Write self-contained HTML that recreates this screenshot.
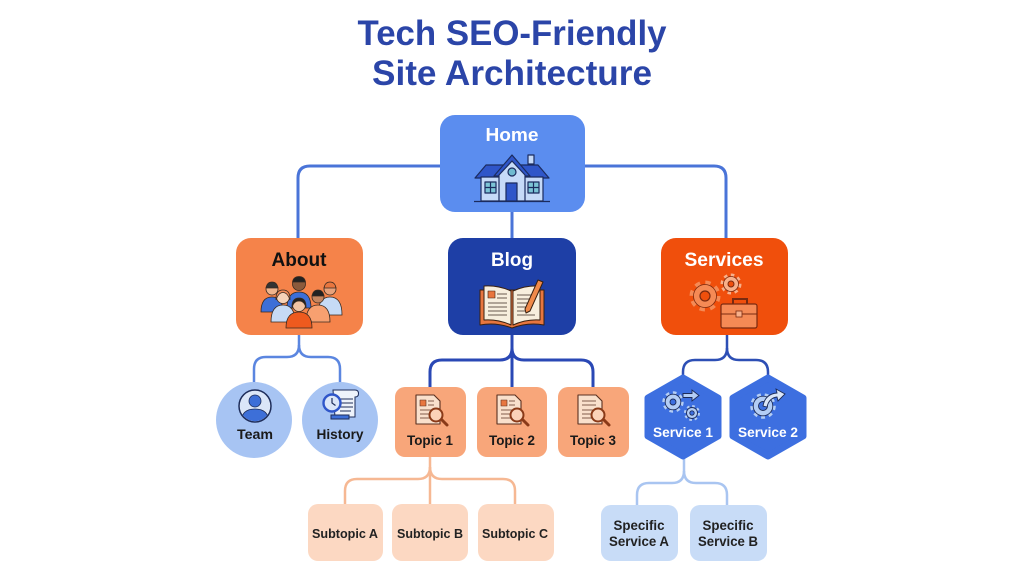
<!DOCTYPE html>
<html><head><meta charset="utf-8"><style>
html,body{margin:0;padding:0;background:#fff;}
svg{display:block;}
text{font-family:"Liberation Sans",Arial,sans-serif;font-weight:bold;}
</style></head><body>
<svg width="1024" height="576" viewBox="0 0 1024 576" xmlns="http://www.w3.org/2000/svg">
<rect width="1024" height="576" fill="#fff"/>

<!-- Title -->
<text x="512" y="45" text-anchor="middle" font-size="35" fill="#2b45a8" textLength="309" lengthAdjust="spacingAndGlyphs">Tech SEO-Friendly</text>
<text x="512" y="85" text-anchor="middle" font-size="35" fill="#2b45a8" textLength="280" lengthAdjust="spacingAndGlyphs">Site Architecture</text>

<!-- Connectors top -->
<g fill="none" stroke="#4a74d8" stroke-width="3">
<path d="M440 166 H310 Q298 166 298 178 V240"/>
<path d="M585 166 H714 Q726 166 726 178 V240"/>
<path d="M512 210 V240"/>
</g>
<!-- About branch -->
<g fill="none" stroke="#5b86e0" stroke-width="2.5">
<path d="M299 334 V345 Q299 357 287 357 H266 Q254 357 254 369 V386"/>
<path d="M299 345 Q299 357 311 357 H328 Q340 357 340 369 V386"/>
</g>
<!-- Blog branch -->
<g fill="none" stroke="#2a48b5" stroke-width="3">
<path d="M512 334 V348 Q512 360 500 360 H442 Q430 360 430 372 V388"/>
<path d="M512 348 Q512 360 524 360 H581 Q593 360 593 372 V388"/>
<path d="M512 348 V388"/>
</g>
<!-- Services branch -->
<g fill="none" stroke="#2d4fb5" stroke-width="2.5">
<path d="M727 334 V348 Q727 360 715 360 H695 Q683 360 683 372 V380"/>
<path d="M727 348 Q727 360 739 360 H756 Q768 360 768 372 V380"/>
</g>
<!-- Subtopic branch -->
<g fill="none" stroke="#f6b893" stroke-width="2.5">
<path d="M430 456 V467 Q430 479 418 479 H357 Q345 479 345 491 V505"/>
<path d="M430 467 Q430 479 442 479 H503 Q515 479 515 491 V505"/>
<path d="M430 467 V505"/>
</g>
<!-- Specific branch -->
<g fill="none" stroke="#a9c5f1" stroke-width="2.5">
<path d="M684 456 V471 Q684 483 672 483 H649 Q637 483 637 495 V506"/>
<path d="M684 471 Q684 483 696 483 H715 Q727 483 727 495 V506"/>
</g>

<!-- Home -->
<rect x="440" y="115" width="145" height="97" rx="15" fill="#5b8def"/>
<text x="512" y="141" text-anchor="middle" font-size="18" fill="#fff" textLength="53" lengthAdjust="spacingAndGlyphs">Home</text>
<!-- house -->
<g stroke="#1b2b5e" stroke-width="1.2" stroke-linejoin="round">
<rect x="528" y="155" width="6" height="9" fill="#c6daf8"/>
<polygon points="475,178 486,165 538,165 549,178" fill="#2f56c9"/>
<rect x="481" y="177" width="20" height="24" fill="#c6daf8"/>
<rect x="523" y="177" width="20" height="24" fill="#c6daf8"/>
<polygon points="494,176 512,155 530,176" fill="#2f56c9"/>
<polygon points="499,175 512,161 525,175 525,201 499,201" fill="#c6daf8"/>
<circle cx="512" cy="172" r="4" fill="#6fbad0"/>
<rect x="506" y="183" width="11" height="18" fill="#2f56c9"/>
<rect x="485" y="182" width="11" height="11" fill="#7cc4d6"/>
<rect x="528" y="182" width="11" height="11" fill="#7cc4d6"/>
<path d="M490.5 182 V193 M485 187.5 H496 M533.5 182 V193 M528 187.5 H539" fill="none"/>
<path d="M474 201.5 H550" fill="none"/>
</g>

<!-- About -->
<rect x="236" y="238" width="127" height="97" rx="15" fill="#f5834a"/>
<text x="299" y="266" text-anchor="middle" font-size="19" fill="#111" textLength="55" lengthAdjust="spacingAndGlyphs">About</text>
<g stroke="#3a2a20" stroke-width="0.8">
<path d="M261 312 Q261 297 272 297 Q283 297 283 312 Z" fill="#3d6fd8"/>
<circle cx="272" cy="289" r="6" fill="#f0b48c"/>
<path d="M266 288 Q267 282 272 282 Q277 282 278 288 Z" fill="#333"/>
<path d="M287 308 Q287 292 299 292 Q311 292 311 308 Z" fill="#3d6fd8"/>
<circle cx="299" cy="284" r="6.5" fill="#8b5a3c"/>
<path d="M292.5 282 Q293.5 276.5 299 276.5 Q304.5 276.5 305.5 282 Z" fill="#222"/>
<path d="M318 315 Q318 297 330 297 Q342 297 342 315 Z" fill="#c6daf5"/>
<circle cx="330" cy="289" r="6" fill="#e7a27c"/>
<path d="M324 288 Q325 282 330 282 Q335 282 336 288 Z" fill="#e8763f"/>
<path d="M271 322 Q271 305 283 305 Q295 305 295 322 Z" fill="#c6daf5"/>
<circle cx="283" cy="297" r="6.5" fill="#f6d2b8"/>
<path d="M276 300 Q275.5 290 283 290 Q290.5 290 290 300 Q287.5 292.5 283 292.5 Q278.5 292.5 276 300 Z" fill="#f18c5a"/>
<path d="M306 322 Q306 305 318 305 Q330 305 330 322 Z" fill="#f7a070"/>
<circle cx="318" cy="297" r="6" fill="#c58660"/>
<path d="M312 296 Q313 290 318 290 Q323 290 324 296 Z" fill="#222"/>
<path d="M286 328 Q286 312 299 312 Q312 312 312 328 Z" fill="#ee5a1e"/>
<circle cx="299" cy="305" r="6.5" fill="#f2c4a4"/>
<path d="M292 308 Q291.5 298 299 298 Q306.5 298 306 308 Q304.5 301 299 301 Q293.5 301 292 308 Z" fill="#222"/>
</g>

<!-- Blog -->
<rect x="448" y="238" width="128" height="97" rx="15" fill="#1e3fa6"/>
<text x="512" y="266" text-anchor="middle" font-size="19" fill="#fff" textLength="42" lengthAdjust="spacingAndGlyphs">Blog</text>
<g stroke="#3a2010" stroke-width="1" stroke-linejoin="round">
<path d="M480 290 L480 325 Q496 322 512 328 Q528 322 544 325 L544 290 Z" fill="#e8763f"/>
<path d="M484 286 Q498 285 511 291 L511 325 Q498 319 484 320 Z" fill="#f7eedd"/>
<path d="M513 291 Q526 285 540 286 L540 320 Q526 319 513 325 Z" fill="#f7eedd"/>
<rect x="488" y="291" width="7" height="7" fill="#e8763f" stroke-width="0.6"/>
<path d="M497 294 H507 M497 298 H507 M488 303 H507 M488 307 H507 M488 311 H507 M488 315 H507 M517 295 H535 M517 299 H535 M517 303 H530 M517 307 H528 M517 311 H530 M517 315 H535" fill="none" stroke="#6a5a50" stroke-width="0.9"/>
<path d="M538 280 L543 282 L530 311 L526 313 L525 309 Z" fill="#f08a4a"/>
</g>

<!-- Services -->
<rect x="661" y="238" width="127" height="97" rx="15" fill="#f04f0c"/>
<text x="724" y="266" text-anchor="middle" font-size="19" fill="#fff" textLength="79" lengthAdjust="spacingAndGlyphs">Services</text>
<g>
<circle cx="705" cy="296" r="13" fill="none" stroke="#f58a55" stroke-width="5" stroke-dasharray="5.1 5.1"/>
<circle cx="705" cy="296" r="11.5" fill="#f58a55" stroke="#7a2a10" stroke-width="0.8"/>
<circle cx="705" cy="296" r="5" fill="#f04f0c" stroke="#7a2a10" stroke-width="1.2"/>
<circle cx="731" cy="284" r="8.5" fill="none" stroke="#f8b08a" stroke-width="4" stroke-dasharray="3.3 3.3"/>
<circle cx="731" cy="284" r="7.5" fill="#f8b08a" stroke="#7a2a10" stroke-width="0.8"/>
<circle cx="731" cy="284" r="3" fill="#f04f0c" stroke="#7a2a10" stroke-width="1"/>
<path d="M733 304 V299 H747 V304" fill="none" stroke="#7a2a10" stroke-width="2"/>
<rect x="721" y="304" width="36" height="24" rx="2" fill="#f58a55" stroke="#7a2a10" stroke-width="1.2"/>
<path d="M721 314 H757" stroke="#7a2a10" stroke-width="1"/>
<rect x="736" y="311" width="6" height="6" fill="#f8b08a" stroke="#7a2a10" stroke-width="0.8"/>
</g>

<!-- Team / History -->
<circle cx="254" cy="420" r="38" fill="#a7c4f3"/>
<circle cx="340" cy="420" r="38" fill="#a7c4f3"/>
<circle cx="255" cy="406" r="16" fill="#dbe6f8" stroke="#1e2d5a" stroke-width="1.5"/>
<clipPath id="tc"><circle cx="255" cy="406" r="15.2"/></clipPath>
<g clip-path="url(#tc)">
<circle cx="255" cy="401" r="6" fill="#3d6fd8" stroke="#1e2d5a" stroke-width="0.8"/>
<path d="M241 423 Q241 409 255 409 Q269 409 269 423 Z" fill="#3d6fd8" stroke="#1e2d5a" stroke-width="0.8"/>
</g>
<text x="255" y="439" text-anchor="middle" font-size="14" fill="#1a1a1a" textLength="36" lengthAdjust="spacingAndGlyphs">Team</text>
<g stroke="#1e2d5a" stroke-width="1">
<path d="M333 390 H355 Q358.5 390 358.5 393.5 Q358.5 397 355 397 V417 H335 Z" fill="#eef3fb"/>
<path d="M340 399 H353 M340 403 H353 M340 407 H353 M340 411 H351" fill="none" stroke-width="0.9"/>
<rect x="331" y="415" width="18" height="4" fill="#3d6fd8"/>
<circle cx="332" cy="403" r="8.5" fill="#dbe6f8" stroke="#2f56c9" stroke-width="2.4"/>
<path d="M332 398 V403 L335.5 405.5" fill="none" stroke-width="1.2"/>
</g>
<text x="340" y="439" text-anchor="middle" font-size="14" fill="#1a1a1a" textLength="47" lengthAdjust="spacingAndGlyphs">History</text>

<!-- Topics -->
<rect x="395" y="387" width="71" height="70" rx="10" fill="#f8a67a"/>
<rect x="477" y="387" width="70" height="70" rx="10" fill="#f8a67a"/>
<rect x="558" y="387" width="71" height="70" rx="10" fill="#f8a67a"/>
<g stroke="#5a3020" stroke-width="1.1" stroke-linejoin="round">
<path d="M416 395 H434 L440 401 V424 H416 Z" fill="#f9e0cc"/>
<rect x="420" y="400" width="6" height="6" fill="#e8763f" stroke-width="0.6"/>
<path d="M428 401 H434 M428 405 H434 M420 410 H432 M420 414 H430 M420 418 H430" fill="none" stroke-width="0.8"/>
<path d="M441 419 L447 425" stroke="#8a3a18" stroke-width="3" stroke-linecap="round"/>
<circle cx="436" cy="415" r="6.5" fill="#fbd2b8" stroke="#8a3a18" stroke-width="2"/>

<path d="M497 395 H515 L521 401 V424 H497 Z" fill="#f9e0cc"/>
<rect x="501" y="400" width="6" height="6" fill="#e8763f" stroke-width="0.6"/>
<path d="M509 401 H515 M509 405 H515 M501 410 H513 M501 414 H511 M501 418 H511" fill="none" stroke-width="0.8"/>
<path d="M522 419 L528 425" stroke="#8a3a18" stroke-width="3" stroke-linecap="round"/>
<circle cx="517" cy="415" r="6.5" fill="#fbd2b8" stroke="#8a3a18" stroke-width="2"/>

<path d="M578 395 H596 L602 401 V424 H578 Z" fill="#f9e0cc"/>
<path d="M582 401 H596 M582 405 H596 M582 410 H594 M582 414 H592 M582 418 H592" fill="none" stroke-width="0.8"/>
<path d="M603 419 L609 425" stroke="#8a3a18" stroke-width="3" stroke-linecap="round"/>
<circle cx="598" cy="415" r="6.5" fill="#fbd2b8" stroke="#8a3a18" stroke-width="2"/>
</g>
<text x="430" y="445" text-anchor="middle" font-size="14" fill="#1a1a1a" textLength="46" lengthAdjust="spacingAndGlyphs">Topic 1</text>
<text x="512" y="445" text-anchor="middle" font-size="14" fill="#1a1a1a" textLength="46" lengthAdjust="spacingAndGlyphs">Topic 2</text>
<text x="593" y="445" text-anchor="middle" font-size="14" fill="#1a1a1a" textLength="46" lengthAdjust="spacingAndGlyphs">Topic 3</text>

<!-- Hexagons -->
<polygon points="683,378 718,398 718,436 683,456 648,436 648,398" fill="#3d6fe0" stroke="#3d6fe0" stroke-width="7" stroke-linejoin="round"/>
<polygon points="768,378 803,398 803,436 768,456 733,436 733,398" fill="#3d6fe0" stroke="#3d6fe0" stroke-width="7" stroke-linejoin="round"/>
<g stroke="#1e2d5a" stroke-width="0.9">
<circle cx="673" cy="402" r="9" fill="none" stroke="#b3cdf5" stroke-width="3.4" stroke-dasharray="3.5 3.5"/>
<circle cx="673" cy="402" r="7.8" fill="#b3cdf5"/>
<circle cx="673" cy="402" r="3" fill="#3d6fe0"/>
<circle cx="692" cy="413" r="6.5" fill="none" stroke="#b3cdf5" stroke-width="3" stroke-dasharray="2.55 2.55"/>
<circle cx="692" cy="413" r="5.5" fill="#b3cdf5"/>
<circle cx="692" cy="413" r="2.2" fill="#3d6fe0"/>
<path d="M683 393.5 H692 V390 L699 395.5 L692 401 V397.5 H683 Z" fill="#b3cdf5"/>

<circle cx="763" cy="406" r="11" fill="none" stroke="#b3cdf5" stroke-width="3.6" stroke-dasharray="3.8 3.8"/>
<circle cx="763" cy="406" r="9.8" fill="#b3cdf5"/>
<circle cx="763" cy="406" r="4.5" fill="#3d6fe0"/>
<path d="M763 406 Q765 394 777 393 L776 389 L785 394 L778 401 L777 397 Q769 398 767 407 Z" fill="#dbe6f8"/>
</g>
<text x="683" y="437" text-anchor="middle" font-size="14" fill="#fff" textLength="60" lengthAdjust="spacingAndGlyphs">Service 1</text>
<text x="768" y="437" text-anchor="middle" font-size="14" fill="#fff" textLength="60" lengthAdjust="spacingAndGlyphs">Service 2</text>

<!-- Subtopics -->
<rect x="308" y="504" width="75" height="57" rx="10" fill="#fcd8c2"/>
<rect x="392" y="504" width="76" height="57" rx="10" fill="#fcd8c2"/>
<rect x="478" y="504" width="76" height="57" rx="10" fill="#fcd8c2"/>
<text x="345" y="538" text-anchor="middle" font-size="13" fill="#222" textLength="66" lengthAdjust="spacingAndGlyphs">Subtopic A</text>
<text x="430" y="538" text-anchor="middle" font-size="13" fill="#222" textLength="66" lengthAdjust="spacingAndGlyphs">Subtopic B</text>
<text x="515" y="538" text-anchor="middle" font-size="13" fill="#222" textLength="66" lengthAdjust="spacingAndGlyphs">Subtopic C</text>

<!-- Specific services -->
<rect x="601" y="505" width="77" height="56" rx="10" fill="#c8dcf7"/>
<rect x="690" y="505" width="77" height="56" rx="10" fill="#c8dcf7"/>
<text x="639" y="530" text-anchor="middle" font-size="14" fill="#222" textLength="51" lengthAdjust="spacingAndGlyphs">Specific</text>
<text x="639" y="546" text-anchor="middle" font-size="14" fill="#222" textLength="60" lengthAdjust="spacingAndGlyphs">Service A</text>
<text x="728" y="530" text-anchor="middle" font-size="14" fill="#222" textLength="51" lengthAdjust="spacingAndGlyphs">Specific</text>
<text x="728" y="546" text-anchor="middle" font-size="14" fill="#222" textLength="60" lengthAdjust="spacingAndGlyphs">Service B</text>
</svg>
</body></html>
